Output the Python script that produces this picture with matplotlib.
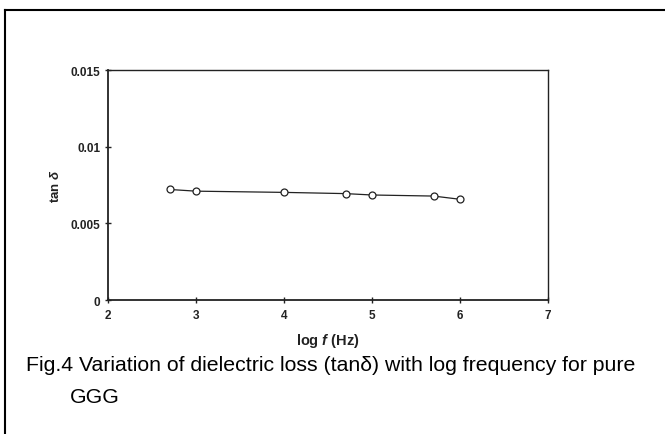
import matplotlib
matplotlib.use("Agg")
import matplotlib.pyplot as plt
from matplotlib.lines import Line2D

# dielectric loss of pure GGG vs log frequency
log_f = [2.7, 3.0, 4.0, 4.7, 5.0, 5.7, 6.0]
tan_delta = [0.00721, 0.00710, 0.00702, 0.00694, 0.00685, 0.00678, 0.00657]

x_ticks = [2, 3, 4, 5, 6, 7]
y_ticks = [0, 0.005, 0.01, 0.015]
y_tick_labels = ["0", "0.005", "0.01", "0.015"]

caption_1 = "Fig.4 Variation of dielectric loss (tan\u03b4) with log frequency for pure"
caption_2 = "GGG"

plt.rcParams["font.family"] = ["Liberation Sans", "DejaVu Sans"]
plt.rcParams["mathtext.fontset"] = "custom"
plt.rcParams["mathtext.it"] = "Liberation Sans:italic:bold"
plt.rcParams["mathtext.bf"] = "Liberation Sans:bold"

fig = plt.figure(figsize=(6.65, 4.35), dpi=100)
ax = fig.add_axes([0.1624, 0.308, 0.6617, 0.5287])

ink = "#222222"
ax.plot(log_f, tan_delta, "-o", color=ink, lw=0.9, ms=5,
        mfc="white", mec=ink, mew=0.9)

ax.set_xlim(2, 7)
ax.set_ylim(0, 0.015)
ax.set_xticks(x_ticks)
ax.set_yticks(y_ticks)
ax.set_yticklabels(y_tick_labels)
ax.tick_params(direction="inout", length=5, width=1, colors=ink,
               labelsize=8.5, pad=3)
ax.tick_params(axis="x", pad=4)
for lbl in ax.get_xticklabels() + ax.get_yticklabels():
    lbl.set_fontweight("bold")
for s in ax.spines.values():
    s.set_color(ink)
    s.set_linewidth(1.0)
ax.spines["left"].set_linewidth(1.3)
ax.spines["bottom"].set_linewidth(1.3)

ax.set_xlabel(r"log $f$ (Hz)", fontsize=10.5, fontweight="bold",
              color=ink, labelpad=7)
ax.set_ylabel(r"tan $\delta$", fontsize=9.5, fontweight="bold",
              color=ink, labelpad=6)

# caption below the plot
fig.text(26 / 665, 1 - 366 / 435, caption_1, fontsize=15.3, va="center",
         ha="left", color="black")
fig.text(70 / 665, 1 - 398 / 435, caption_2, fontsize=15.3, va="center",
         ha="left", color="black")

# page frame: top and left edges only
fig.add_artist(Line2D([5 / 665, 1.0], [1 - 11 / 435, 1 - 11 / 435],
                      transform=fig.transFigure, color="black", lw=1.5))
fig.add_artist(Line2D([5 / 665, 5 / 665], [0.0, 1 - 11 / 435],
                      transform=fig.transFigure, color="black", lw=1.5))

fig.savefig("out.png", dpi=100)
